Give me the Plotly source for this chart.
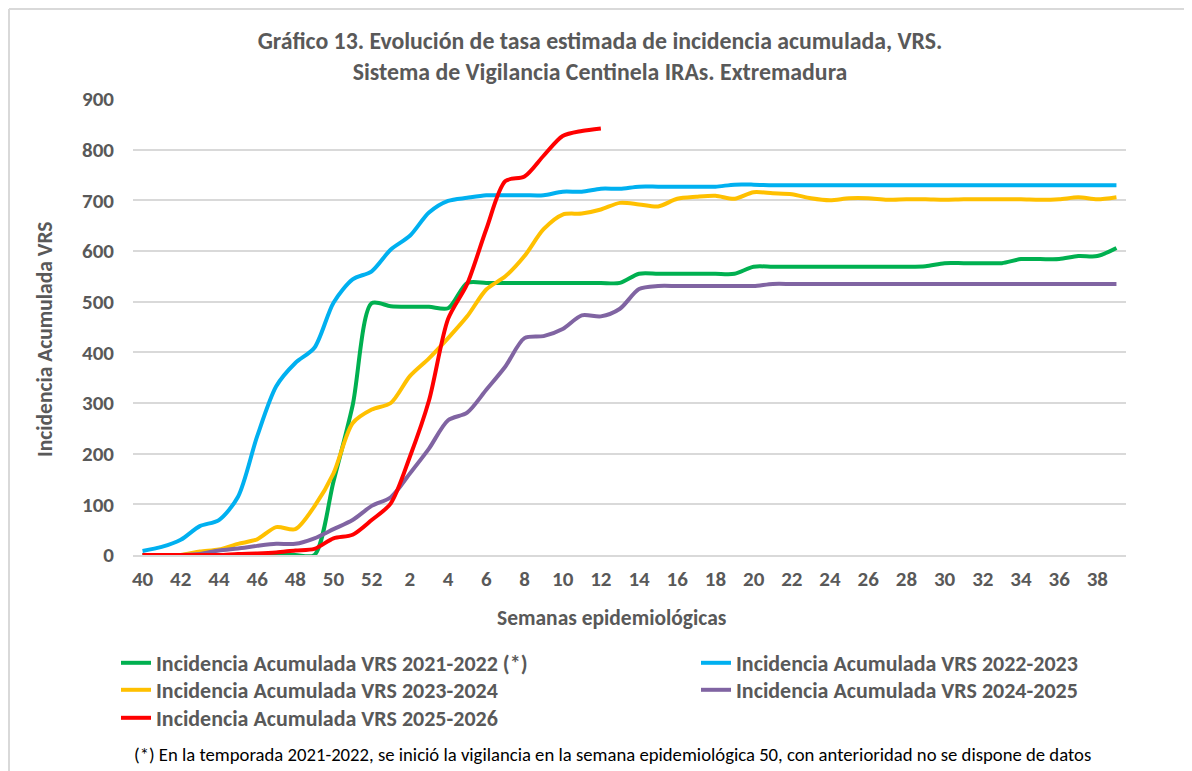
import plotly.graph_objects as go

weeks = [str(w) for w in list(range(40, 53)) + list(range(1, 40))]
tick_labels = [w for w in weeks if int(w) % 2 == 0]

vrs_2021_2022 = [0, 0, 0, 0, 0, 0, 0, 0, 0, 0, 145, 295, 497,
                 491, 490, 490, 487, 537, 537, 537, 537, 537, 537, 537, 537, 537,
                 555, 555, 555, 555, 555, 555, 569, 569, 569, 569, 569, 569, 569, 569,
                 569, 570, 576, 576, 576, 576, 584, 584, 584, 590, 590, 606]
vrs_2022_2023 = [8, 16, 30, 57, 69, 115, 234, 333, 379, 409, 498, 544, 560,
                 603, 630, 676, 699, 705, 710, 710, 710, 710, 717, 717, 723, 723,
                 727, 727, 727, 727, 727, 731, 731, 730, 730, 730, 730, 730, 730, 730,
                 730, 730, 730, 730, 730, 730, 730, 730, 730, 730, 730, 730]
vrs_2023_2024 = [0, 0, 0, 7, 11, 22, 31, 55, 51, 96, 161, 260, 287,
                 300, 353, 388, 428, 471, 524, 550, 590, 643, 672, 674, 682, 695,
                 692, 688, 703, 707, 709, 703, 716, 714, 712, 704, 700, 704, 704, 701,
                 702, 702, 701, 702, 702, 702, 702, 701, 702, 706, 702, 706]
vrs_2024_2025 = [0, 0, 0, 2, 9, 13, 18, 22, 22, 33, 51, 69, 97,
                 114, 161, 210, 266, 281, 326, 372, 428, 432, 446, 473, 471, 486,
                 525, 531, 531, 531, 531, 531, 531, 535, 535, 535, 535, 535, 535, 535,
                 535, 535, 535, 535, 535, 535, 535, 535, 535, 535, 535, 535]
vrs_2025_2026 = [0, 0, 0, 0, 0, 2, 3, 5, 9, 12, 33, 40, 69,
                 102, 194, 305, 466, 535, 643, 738, 747, 788, 827, 837, 842]

series = [
    ("Incidencia Acumulada VRS 2021-2022 (*)", vrs_2021_2022, "#00B050"),
    ("Incidencia Acumulada VRS 2022-2023", vrs_2022_2023, "#00B0F0"),
    ("Incidencia Acumulada VRS 2023-2024", vrs_2023_2024, "#FFC000"),
    ("Incidencia Acumulada VRS 2024-2025", vrs_2024_2025, "#8064A2"),
    ("Incidencia Acumulada VRS 2025-2026", vrs_2025_2026, "#FF0000"),
]

FONT = "Carlito, Calibri, 'Liberation Sans Narrow', 'DejaVu Sans Condensed', sans-serif"
GRAY = "#595959"

# figure geometry (page has an 8px body margin)
W, H = 1184, 763
L, R, T, B = 125, 66, 91, 216
PW, PH = W - L - R, H - T - B
PLOT_BOTTOM = H - B


def px(x):
    return (x - L) / PW


def py(y):
    return (PLOT_BOTTOM - y) / PH


# legend slots: (column text x, row center y) in figure pixels
legend_slots = [(149, 655), (729, 655), (149, 682), (729, 682), (149, 710)]

fig = go.Figure()
layout_legends = {}
for k, ((name, vals, color), (lx, ly)) in enumerate(zip(series, legend_slots)):
    lg = "legend" if k == 0 else f"legend{k + 1}"
    fig.add_trace(go.Scatter(
        x=weeks[:len(vals)], y=vals, name=f"<b>{name}</b>", mode="lines",
        legend=lg,
        line=dict(color=color, width=4, shape="spline", smoothing=0.8),
    ))
    layout_legends[lg] = dict(
        x=px(lx - 41), y=py(ly), xanchor="left", yanchor="middle",
        orientation="v", font=dict(size=22, color=GRAY, family=FONT),
        bgcolor="rgba(0,0,0,0)", tracegroupgap=0,
    )

fig.update_layout(
    width=W, height=H,
    margin=dict(l=L, r=R, t=T, b=B, autoexpand=False),
    paper_bgcolor="white", plot_bgcolor="white",
    font=dict(family=FONT, color=GRAY, size=16),
    title=dict(
        text="<b>Gráfico 13. Evolución de tasa estimada de incidencia acumulada, VRS.</b><br><b>Sistema de Vigilancia Centinela IRAs. Extremadura</b>",
        x=0.5, xanchor="center", y=1 - 41 / H, yanchor="top",
        font=dict(size=23.8, color=GRAY, family=FONT),
    ),
    xaxis=dict(
        type="category", categoryorder="array", categoryarray=weeks,
        range=[-0.5, 51.5], tickmode="array", tickvals=tick_labels,
        ticktext=[f"<b>{t}</b>" for t in tick_labels],
        showgrid=False, showline=True, linecolor="#D9D9D9", linewidth=1.5,
        ticks="", tickfont=dict(size=21, color=GRAY), ticklabelstandoff=4,
        fixedrange=True,
    ),
    yaxis=dict(
        range=[0, 900], tickvals=list(range(0, 1000, 100)),
        ticktext=[f"<b>{v}</b>" for v in range(0, 1000, 100)],
        showgrid=True, gridcolor="#D9D9D9", gridwidth=1.5,
        zeroline=False, ticks="", tickfont=dict(size=21, color=GRAY),
        ticklabelstandoff=18, fixedrange=True,
    ),
    showlegend=True,
    **layout_legends,
)

fig.add_annotation(
    text="<b>Incidencia Acumulada VRS</b>", textangle=-90,
    xref="paper", yref="paper", x=px(37), y=py(332),
    xanchor="center", yanchor="middle",
    showarrow=False, font=dict(size=21.5, color=GRAY, family=FONT),
)
fig.add_annotation(
    text="<b>Semanas epidemiológicas</b>",
    xref="paper", yref="paper", x=px(604), y=py(610),
    xanchor="center", yanchor="middle",
    showarrow=False, font=dict(size=21.5, color=GRAY, family=FONT),
)
fig.add_annotation(
    text="(*) En la temporada 2021-2022, se inició la vigilancia en la semana epidemiológica 50, con anterioridad no se dispone de datos",
    xref="paper", yref="paper", x=px(604), y=py(746),
    xanchor="center", yanchor="middle",
    showarrow=False, font=dict(size=18.7, color="#000000", family=FONT),
)
# outer border (top and left)
fig.add_shape(type="line", xref="paper", yref="paper",
              x0=px(1), x1=px(W), y0=py(1), y1=py(1),
              line=dict(color="#D9D9D9", width=2))
fig.add_shape(type="line", xref="paper", yref="paper",
              x0=px(1), x1=px(1), y0=py(1), y1=py(H),
              line=dict(color="#D9D9D9", width=2))

fig.write_html("out.html")
